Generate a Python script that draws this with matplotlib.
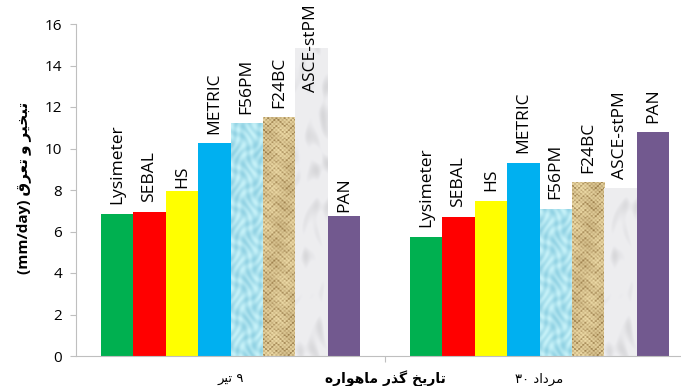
import numpy as np
import matplotlib
matplotlib.use('Agg')
import matplotlib.pyplot as plt

plt.rcParams['font.family'] = ['Open Sans', 'DejaVu Sans']

# ET (mm/day) on the two satellite overpass dates
methods = ['Lysimeter', 'SEBAL', 'HS', 'METRIC', 'F56PM', 'F24BC', 'ASCE-stPM', 'PAN']
et_9tir = [6.85, 6.93, 7.97, 10.25, 11.21, 11.48, 14.8, 6.75]
et_30mordad = [5.75, 6.71, 7.47, 9.3, 7.08, 8.37, 8.06, 10.78]
dates = ['۹ تیر', '۳۰ مرداد']

colors = ['#00b050', '#ff0000', '#ffff00', '#00b0f0', None, None, None, '#72598f']


# --- minimal arabic shaping (presentation forms) so matplotlib draws joined letters
FORMS = {
    'ا': ('\uFE8D', '\uFE8E', None, None),
    'ب': ('\uFE8F', '\uFE90', '\uFE91', '\uFE92'),
    'ت': ('\uFE95', '\uFE96', '\uFE97', '\uFE98'),
    'خ': ('\uFEA5', '\uFEA6', '\uFEA7', '\uFEA8'),
    'د': ('\uFEA9', '\uFEAA', None, None),
    'ذ': ('\uFEAB', '\uFEAC', None, None),
    'ر': ('\uFEAD', '\uFEAE', None, None),
    'ع': ('\uFEC9', '\uFECA', '\uFECB', '\uFECC'),
    'ق': ('\uFED5', '\uFED6', '\uFED7', '\uFED8'),
    'م': ('\uFEE1', '\uFEE2', '\uFEE3', '\uFEE4'),
    'ه': ('\uFEE9', '\uFEEA', '\uFEEB', '\uFEEC'),
    'و': ('\uFEED', '\uFEEE', None, None),
    'ی': ('\uFBFC', '\uFBFD', '\uFBFE', '\uFBFF'),
    'گ': ('\uFB92', '\uFB93', '\uFB94', '\uFB95'),
}


def shape(s):
    out = []
    for i, ch in enumerate(s):
        if ch not in FORMS:
            out.append(ch)
            continue
        prev = s[i - 1] if i > 0 else ''
        nxt = s[i + 1] if i + 1 < len(s) else ''
        iso, fin, ini, med = FORMS[ch]
        jp = prev in FORMS and FORMS[prev][2] is not None
        jn = nxt in FORMS and ini is not None
        if jp and jn:
            out.append(med)
        elif jp:
            out.append(fin)
        elif jn:
            out.append(ini)
        else:
            out.append(iso)
    return ''.join(reversed(out))


def visual(label):
    # digits stay left-to-right, words get reversed
    num, word = label.split(' ', 1)
    if num == '۹':
        return shape(word) + ' ' + num
    return num + ' ' + shape(word)


# --- textures for the three picture-filled series
def tex_water(h, w):
    y, x = np.mgrid[0:h, 0:w].astype(float)
    v = np.sin(x * 0.55 + 2 * np.sin(y * 0.17)) * np.sin(y * 0.33 + 1.5 * np.cos(x * 0.27))
    base = np.array([172, 226, 238]) / 255
    return np.clip(base + v[..., None] * np.array([0.10, 0.06, 0.04]), 0, 1)


def tex_burlap(h, w):
    y, x = np.mgrid[0:h, 0:w].astype(float)
    weave = ((x // 2 + y // 2) % 2)
    v = 0.66 + 0.2 * weave
    v -= 0.35 * (1 - weave) * np.clip(np.sin(0.9 * y + 3 * np.sin(0.37 * x)), 0, 1)
    v += 0.1 * np.sin(0.21 * x + 0.13 * y) * np.cos(0.17 * y)
    dark = np.array([128, 95, 45]) / 255
    light = np.array([242, 224, 172]) / 255
    v = np.clip(v, 0, 1)[..., None]
    return dark + (light - dark) * v


def tex_marble(h, w):
    y, x = np.mgrid[0:h, 0:w].astype(float)
    v = (np.sin(x * 0.21 + 2.5 * np.sin(y * 0.061)) * np.sin(y * 0.083 + 1.7 * np.cos(x * 0.19))
         + 0.6 * np.sin(0.13 * x - 0.11 * y + 2 * np.sin(0.05 * y)))
    v = np.clip(v - 0.3, 0, None)
    g = 0.93 - 0.07 * v
    return np.clip(np.dstack([g, g, g + 0.01]), 0, 1)


textures = {'F56PM': tex_water, 'F24BC': tex_burlap, 'ASCE-stPM': tex_marble}

fig = plt.figure(figsize=(6.81, 3.86), dpi=100)
ax = fig.add_axes([76 / 681, 30 / 386, 618 / 681, 332 / 386])

x = np.arange(len(dates))
w = 0.1048
px_per_unit = 332 / 16

# label gap in points above each bar; a few were moved by hand
label_gap = {(0, 'HS'): 2, (0, 'PAN'): 3}
label_at = {(0, 'ASCE-stPM'): 12.72}

series = list(zip(et_9tir, et_30mordad))
for i, m in enumerate(methods):
    xs = x + (i - 3.5) * w
    vals = series[i]
    if m in textures:
        bars = ax.bar(xs, vals, w, color='none', linewidth=0)
        for b, v in zip(bars, vals):
            img = textures[m](max(int(v * px_per_unit), 2), 32)
            ax.imshow(img, extent=(b.get_x(), b.get_x() + w, 0, v), aspect='auto',
                      origin='lower', interpolation='bilinear', zorder=2)
    else:
        ax.bar(xs, vals, w, color=colors[i], linewidth=0, zorder=2)
    for j, v in enumerate(vals):
        if (j, m) in label_at:
            ax.annotate(m, (xs[j], label_at[(j, m)]), ha='center', va='bottom',
                        rotation=90, fontsize=12.5, zorder=5)
        else:
            gap = label_gap.get((j, m), 7)
            ax.annotate(m, (xs[j], v), xytext=(0, gap), textcoords='offset points',
                        ha='center', va='bottom', rotation=90, fontsize=12.5, zorder=5)

ax.set_xlim(-0.5, 1.5)
ax.set_ylim(0, 16)
ax.set_yticks(np.arange(0, 17, 2))
ax.set_xticks([0.5, 1.5], minor=False)
ax.set_xticklabels([])
ax.tick_params(axis='y', length=4, color='#bfbfbf', labelsize=11, pad=6)
ax.tick_params(axis='x', length=4, color='#bfbfbf')
for s in ['top', 'right']:
    ax.spines[s].set_visible(False)
for s in ['left', 'bottom']:
    ax.spines[s].set_color('#bfbfbf')

for xi, d in zip(x, dates):
    ax.text(xi, -1.15, visual(d), ha='center', va='center', fontsize=9.5,
            family='DejaVu Sans')

fig.text(385 / 681, 1 - 379 / 386, shape('تاریخ گذر ماهواره'), ha='center', va='center',
         fontsize=10, fontweight='bold', family='DejaVu Sans')
fig.text(24 / 681, 1 - 188 / 386, '(mm/day) ' + shape('تبخیر و تعرق'), rotation=90,
         ha='center', va='center', fontsize=11, fontweight='bold',
         family=['Open Sans', 'DejaVu Sans'])

fig.savefig('out.png', dpi=100)
